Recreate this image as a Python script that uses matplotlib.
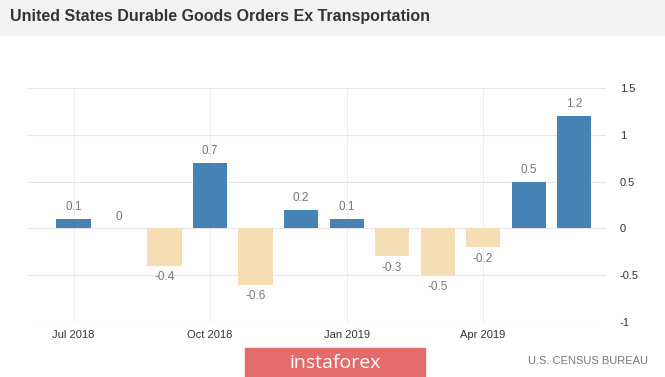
import matplotlib.pyplot as plt
from matplotlib.patches import Rectangle

months = ["Jul 2018", "Aug 2018", "Sep 2018", "Oct 2018", "Nov 2018", "Dec 2018",
          "Jan 2019", "Feb 2019", "Mar 2019", "Apr 2019", "May 2019", "Jun 2019"]
values = [0.1, 0, -0.4, 0.7, -0.6, 0.2, 0.1, -0.3, -0.5, -0.2, 0.5, 1.2]
tick_idx = [0, 3, 6, 9]
yticks = [-1, -0.5, 0, 0.5, 1, 1.5]
ytick_labels = ["-1", "-0.5", "0", "0.5", "1", "1.5"]

plt.rcParams["font.family"] = ["Liberation Sans", "DejaVu Sans"]

W, H = 665, 377
fig = plt.figure(figsize=(W / 100, H / 100), dpi=100)

# header band
fig.patches.append(Rectangle((0, 1 - 35 / H), 1, 35 / H, transform=fig.transFigure,
                             color="#f2f2f2", zorder=0))
fig.text(10 / W, 1 - 17 / H, "United States Durable Goods Orders Ex Transportation",
         fontsize=11.5, fontweight="bold", color="#333333", va="center", ha="left")

left, right, top, bottom = 28, 606, 88, 322
ax = fig.add_axes([left / W, 1 - bottom / H, (right - left) / W, (bottom - top) / H])

x = list(range(len(values)))
colors = ["#4682b4" if v >= 0 else "#f5deb3" for v in values]
ax.bar(x, values, width=0.75, color=colors, zorder=3)

for xi, v in zip(x, values):
    if v >= 0:
        ax.text(xi, v + 0.06, f"{v:g}", ha="center", va="bottom", fontsize=8.5, color="#777777")
    else:
        ax.text(xi, v - 0.06, f"{v:g}", ha="center", va="top", fontsize=8.5, color="#777777")

ax.set_xlim(-1.0, 11.7)
ax.set_ylim(-1, 1.5)
ax.set_yticks(yticks)
ax.set_yticklabels(ytick_labels)
ax.yaxis.tick_right()
ax.set_xticks(tick_idx)
ax.set_xticklabels([months[i] for i in tick_idx])
ax.tick_params(axis="both", length=0, labelsize=8, labelcolor="#333333")
ax.tick_params(axis="y", pad=10)
ax.tick_params(axis="x", pad=6)
for s in ax.spines.values():
    s.set_visible(False)
ax.grid(True, axis="y", color="#e6e6e6", linewidth=0.8, zorder=0)
ax.grid(True, axis="x", color="#efefef", linewidth=0.8, zorder=0)
ax.set_facecolor("none")

# logo
fig.patches.append(Rectangle((245 / W, 0), 180 / W, 29 / H, transform=fig.transFigure,
                             color="#e46b6b", zorder=1))
fig.text(335 / W, 14 / H, "instaforex", color="white", fontsize=14,
         ha="center", va="center", family=["Open Sans", "DejaVu Sans"])
fig.text(648 / W, 16 / H, "U.S. CENSUS BUREAU", color="#777777", fontsize=8,
         ha="right", va="center")

fig.savefig("out.png", dpi=100)
